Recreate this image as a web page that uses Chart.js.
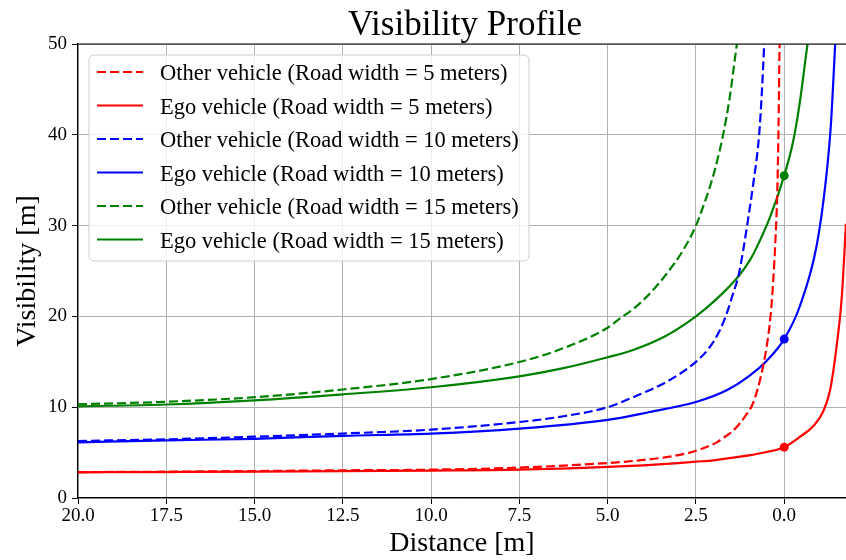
<!DOCTYPE html>
<html>
<head>
<meta charset="utf-8">
<script src="https://cdn.jsdelivr.net/npm/chart.js@4.4.1/dist/chart.umd.min.js"></script>
<style>
  body { margin: 0; background: #fff; overflow: hidden; }
  #wrap { width: 846px; height: 560px; }
  canvas { display: block; }
</style>
</head>
<body>
<div id="wrap"><canvas id="chart1" width="846" height="560"></canvas></div>
<script>
// tick labels
const xTicks = [20, 17.5, 15, 12.5, 10, 7.5, 5, 2.5, 0];
const yTicks = [0, 10, 20, 30, 40, 50];

// road width = 5 m
const otherDist5 = [20, 17.5, 15, 12.5, 10, 7.5, 5, 4.28, 3.33, 2.67, 2.5, 1.92, 1.73, 1.45, 1.26, 1.07, 0.92, 0.83, 0.69, 0.5, 0.38, 0.31, 0.245, 0.2, 0.18, 0.16, 0.14, 0.125];
const otherVis5  = [2.85, 2.9, 2.97, 3.05, 3.12, 3.35, 3.85, 4.08, 4.5, 5.0, 5.2, 6.1, 6.6, 7.4, 8.2, 9.2, 10.1, 11.0, 12.9, 16.6, 20.3, 24.0, 28.7, 33.2, 36.5, 41, 47.5, 52];
const egoDist5 = [20, 17.5, 15, 12.5, 10, 7.5, 5, 4, 3, 2.5, 2, 1.5, 1, 0.5, 0, -0.45, -0.82, -1.1, -1.3, -1.48, -1.63, -1.75];
const egoVis5  = [2.83, 2.86, 2.9, 2.97, 3.02, 3.12, 3.42, 3.6, 3.85, 4.0, 4.15, 4.42, 4.7, 5.07, 5.6, 6.75, 7.9, 9.5, 11.9, 16.6, 22.1, 30.2];

// road width = 10 m
const otherDist10 = [20, 17.5, 15, 12.5, 10, 7.5, 6.25, 5, 4.28, 3.33, 2.5, 2.11, 1.82, 1.63, 1.45, 1.3, 1.16, 1.02, 0.88, 0.71, 0.63, 0.57, 0.55];
const otherVis10  = [6.28, 6.46, 6.75, 7.1, 7.53, 8.37, 9.0, 10.0, 11.1, 12.8, 15.0, 16.6, 18.5, 20.3, 22.5, 24.4, 27.3, 30.8, 34.5, 40.0, 44.9, 49.7, 51.5];
const egoDist10 = [20, 17.5, 15, 12.5, 10, 7.5, 5, 3.81, 2.5, 1.63, 0.97, 0.5, 0, -0.45, -0.92, -1.18, -1.32, -1.44, -1.47];
const egoVis10  = [6.13, 6.35, 6.52, 6.85, 7.09, 7.64, 8.6, 9.47, 10.57, 11.86, 13.5, 15.1, 17.5, 21.2, 27.8, 35.0, 41.0, 49.7, 52];

// road width = 15 m
const otherDist15 = [20, 17.5, 15, 12.5, 10, 7.5, 6.25, 5, 4.66, 4.28, 3.81, 3.33, 2.86, 2.5, 2.3, 2.11, 1.96, 1.73, 1.54, 1.35, 1.3];
const otherVis15  = [10.32, 10.6, 11.1, 11.95, 13.1, 14.98, 16.5, 18.75, 19.75, 20.8, 22.5, 24.7, 27.3, 30.0, 32.05, 34.2, 36.2, 40.0, 44.2, 49.7, 51];
const egoDist15 = [20, 17.5, 15, 12.5, 10, 7.5, 6.25, 5, 4.28, 3.33, 2.5, 1.92, 1.3, 0.97, 0.78, 0.405, 0, -0.26, -0.45, -0.65, -0.7];
const egoVis15  = [10.1, 10.3, 10.76, 11.42, 12.2, 13.4, 14.3, 15.5, 16.3, 17.9, 20.0, 21.9, 24.4, 26.2, 27.6, 30.9, 35.5, 39.4, 43.8, 49.7, 51];

// markers at distance 0 on the ego curves
const markerDist = [0, 0, 0];
const markerVis  = [5.6, 17.5, 35.5];
const markerColors = ['#ff0000', '#0000ff', '#008000'];

const serif = "'Liberation Serif', 'Times New Roman', serif";
const pts = (xs, ys) => xs.map((x, i) => ({ x: x, y: ys[i] }));

function lineSet(label, xs, ys, color, dashed) {
    return {
        label: label,
        data: pts(xs, ys),
        borderColor: color,
        backgroundColor: color,
        borderWidth: 2.2,
        borderDash: dashed ? [9, 4] : [],
        pointRadius: 0,
        fill: false,
        cubicInterpolationMode: 'monotone'
    };
}

// legend box inside the plot + title + top spine
const extras = {
    id: 'extras',
    afterDatasetsDraw(chart) {
        const ctx = chart.ctx;
        const area = chart.chartArea;
        ctx.save();
        // top spine
        ctx.strokeStyle = '#000';
        ctx.lineWidth = 1.2;
        ctx.beginPath();
        ctx.moveTo(area.left, area.top);
        ctx.lineTo(area.right, area.top);
        ctx.stroke();

        // legend
        const bx = 89, by = 55, bw = 440, bh = 206, r = 5;
        ctx.beginPath();
        ctx.roundRect(bx, by, bw, bh, r);
        ctx.fillStyle = 'rgba(255,255,255,0.8)';
        ctx.fill();
        ctx.strokeStyle = '#cccccc';
        ctx.lineWidth = 1;
        ctx.stroke();

        ctx.font = '22.5px ' + serif;
        ctx.textBaseline = 'middle';
        ctx.textAlign = 'left';
        chart.data.datasets.slice(0, 6).forEach((ds, i) => {
            const rowY = 74.5 + i * 33.5;
            ctx.beginPath();
            ctx.strokeStyle = ds.borderColor;
            ctx.lineWidth = ds.borderWidth;
            ctx.setLineDash(ds.borderDash);
            ctx.moveTo(97, rowY - 2.5);
            ctx.lineTo(143, rowY - 2.5);
            ctx.stroke();
            ctx.setLineDash([]);
            ctx.fillStyle = '#000';
            ctx.fillText(ds.label, 160, rowY);
        });

        // title
        ctx.font = '35px ' + serif;
        ctx.textAlign = 'center';
        ctx.textBaseline = 'alphabetic';
        ctx.fillStyle = '#000';
        ctx.fillText('Visibility Profile', 465, 35);
        ctx.restore();
    }
};

const ctx = document.getElementById('chart1').getContext('2d');
const chart1 = new Chart(ctx, {
    type: 'line',
    data: {
        datasets: [
            lineSet('Other vehicle (Road width = 5 meters)', otherDist5, otherVis5, '#ff0000', true),
            lineSet('Ego vehicle (Road width = 5 meters)', egoDist5, egoVis5, '#ff0000', false),
            lineSet('Other vehicle (Road width = 10 meters)', otherDist10, otherVis10, '#0000ff', true),
            lineSet('Ego vehicle (Road width = 10 meters)', egoDist10, egoVis10, '#0000ff', false),
            lineSet('Other vehicle (Road width = 15 meters)', otherDist15, otherVis15, '#008000', true),
            lineSet('Ego vehicle (Road width = 15 meters)', egoDist15, egoVis15, '#008000', false),
            {
                label: 'markers',
                data: pts(markerDist, markerVis),
                showLine: false,
                pointRadius: 4.5,
                pointHoverRadius: 4.5,
                pointBackgroundColor: markerColors,
                pointBorderColor: markerColors,
                pointBorderWidth: 0
            }
        ]
    },
    options: {
        responsive: false,
        animation: false,
        devicePixelRatio: 1,
        layout: { autoPadding: false, padding: { top: 44, left: 0, right: 0, bottom: 0 } },
        plugins: {
            legend: { display: false },
            title: { display: false },
            tooltip: { enabled: false }
        },
        scales: {
            x: {
                type: 'linear',
                reverse: true,
                min: -1.75,
                max: 20,
                afterBuildTicks: s => { s.ticks = xTicks.map(v => ({ value: v })); },
                afterFit: s => { s.height = 62; s.paddingRight = 0; s.paddingLeft = 0; },
                ticks: {
                    callback: v => v.toFixed(1),
                    font: { family: serif, size: 19 },
                    color: '#000',
                    padding: 1,
                    maxRotation: 0,
                    autoSkip: false
                },
                grid: { color: '#b0b0b0', lineWidth: 1, tickLength: 6, tickColor: '#000' },
                border: { color: '#000', width: 1.2 },
                title: {
                    display: true,
                    text: 'Distance [m]',
                    font: { family: serif, size: 28 },
                    color: '#000',
                    padding: { top: 0, bottom: 0 }
                }
            },
            y: {
                type: 'linear',
                min: 0,
                max: 50,
                afterBuildTicks: s => { s.ticks = yTicks.map(v => ({ value: v })); },
                afterFit: s => { s.width = 78; },
                ticks: {
                    font: { family: serif, size: 19 },
                    color: '#000',
                    padding: 5
                },
                grid: { color: '#b0b0b0', lineWidth: 1, tickLength: 6, tickColor: '#000' },
                border: { color: '#000', width: 1.2 },
                title: {
                    display: true,
                    text: 'Visibility [m]',
                    font: { family: serif, size: 28 },
                    color: '#000',
                    padding: { top: 11, bottom: 0 }
                }
            }
        }
    },
    plugins: [extras]
});
</script>
</body>
</html>
